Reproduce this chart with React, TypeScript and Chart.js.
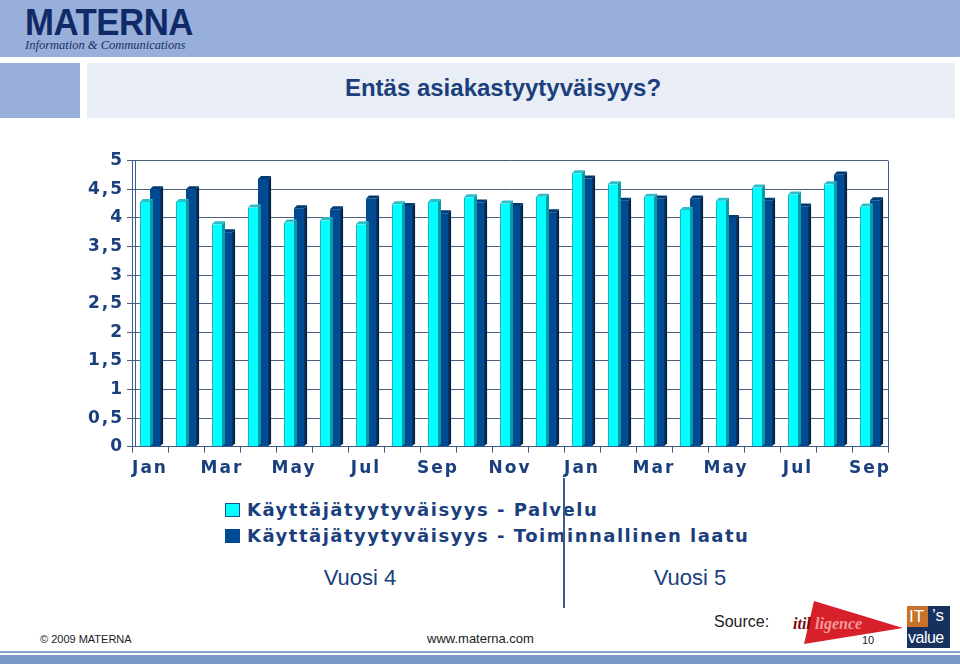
import React, { useEffect, useRef } from "react";
import { Chart, registerables } from "chart.js";

Chart.register(...registerables);

const months = [
  "Jan", "Feb", "Mar", "Apr", "May", "Jun", "Jul", "Aug", "Sep", "Oct", "Nov", "Dec",
  "Jan", "Feb", "Mar", "Apr", "May", "Jun", "Jul", "Aug", "Sep",
];
const palvelu = [
  4.28, 4.28, 3.89, 4.18, 3.92, 3.96, 3.89, 4.24, 4.28, 4.36, 4.25, 4.37,
  4.78, 4.59, 4.37, 4.14, 4.3, 4.53, 4.41, 4.59, 4.2,
];
const toiminnallinen = [
  4.5, 4.5, 3.75, 4.68, 4.17, 4.15, 4.34, 4.21, 4.08, 4.27, 4.21, 4.1,
  4.69, 4.3, 4.34, 4.34, 4.0, 4.3, 4.2, 4.76, 4.31,
];
const seriesNames = [
  "Käyttäjätyytyväisyys - Palvelu",
  "Käyttäjätyytyväisyys - Toiminnallinen laatu",
];
const yearLabels = ["Vuosi 4", "Vuosi 5"];

const NAVY = "#1b3f7c";
const CYAN = "#00ffff";
const DARK = "#004a93";

const depthPlugin = {
  id: "depth3d",
  afterDatasetDraw(chart: any, args: any) {
    const ctx = chart.ctx;
    const meta = args.meta;
    const d = 3;
    const top = args.index === 0 ? "#2bbfca" : "#003a75";
    const side = args.index === 0 ? "#0a9aa6" : "#00264f";
    ctx.save();
    meta.data.forEach((bar: any) => {
      const { x, y, base, width } = bar.getProps(["x", "y", "base", "width"], true);
      const l = x - width / 2;
      const r = x + width / 2;
      ctx.fillStyle = top;
      ctx.beginPath();
      ctx.moveTo(l, y);
      ctx.lineTo(l + d, y - d);
      ctx.lineTo(r + d, y - d);
      ctx.lineTo(r, y);
      ctx.closePath();
      ctx.fill();
      ctx.fillStyle = side;
      ctx.beginPath();
      ctx.moveTo(r, y);
      ctx.lineTo(r + d, y - d);
      ctx.lineTo(r + d, base - d);
      ctx.lineTo(r, base);
      ctx.closePath();
      ctx.fill();
    });
    ctx.restore();
  },
};

const framePlugin = {
  id: "frame",
  beforeDraw(chart: any) {
    chart.ctx.letterSpacing = "2px";
  },
  afterDraw(chart: any) {
    const ctx = chart.ctx;
    ctx.letterSpacing = "0px";
    const a = chart.chartArea;
    ctx.save();
    ctx.strokeStyle = "#3c5a8a";
    ctx.lineWidth = 1;
    ctx.beginPath();
    ctx.moveTo(Math.round(a.right) + 0.5, a.top);
    ctx.lineTo(Math.round(a.right) + 0.5, a.bottom);
    ctx.moveTo(a.left + 3.5, a.top);
    ctx.lineTo(a.left + 3.5, a.bottom);
    ctx.stroke();
    ctx.restore();
  },
};

function ChartBox() {
  const ref = useRef<HTMLCanvasElement>(null);
  useEffect(() => {
    if (!ref.current) return;
    const chart = new Chart(ref.current, {
      type: "bar",
      data: {
        labels: months,
        datasets: [
          {
            label: seriesNames[0],
            data: palvelu,
            backgroundColor: CYAN,
            borderColor: "#1aa0b0",
            borderWidth: { left: 1, top: 0, right: 0, bottom: 0 },
            categoryPercentage: 0.56,
            barPercentage: 1,
          },
          {
            label: seriesNames[1],
            data: toiminnallinen,
            backgroundColor: DARK,
            borderWidth: 0,
            categoryPercentage: 0.56,
            barPercentage: 1,
          },
        ],
      },
      options: {
        animation: false,
        responsive: false,
        maintainAspectRatio: false,
        layout: { padding: { top: 20.7, right: 72, bottom: 0, left: 0 } },
        plugins: {
          legend: { display: false },
          tooltip: { enabled: false },
          title: { display: false },
        },
        scales: {
          x: {
            afterFit(scale: any) {
              scale.height = 43.3;
            },
            grid: {
              offset: true,
              drawOnChartArea: false,
              drawTicks: true,
              tickLength: 6,
              color: "#3c5a8a",
            },
            border: { color: "#3c5a8a", width: 1 },
            ticks: {
              autoSkip: false,
              maxRotation: 0,
              padding: 6,
              color: NAVY,
              font: { family: "DejaVu Sans", weight: "bold", size: 17 },
              callback: (_v: any, i: number) => (i % 2 === 0 ? months[i] : ""),
            },
          },
          y: {
            min: 0,
            max: 5,
            afterFit(scale: any) {
              scale.width = 132;
            },
            grid: {
              color: "#4d5f7e",
              drawTicks: true,
              tickLength: 5,
            },
            border: { color: "#3c5a8a", width: 1 },
            ticks: {
              stepSize: 0.5,
              padding: 3,
              color: NAVY,
              font: { family: "DejaVu Sans", weight: "bold", size: 17 },
              callback: (v: any) => String(v).replace(".", ","),
            },
          },
        },
      },
      plugins: [depthPlugin, framePlugin],
    } as any);
    return () => chart.destroy();
  }, []);
  return (
    <canvas
      ref={ref}
      width={960}
      height={350}
      style={{ position: "absolute", left: 0, top: 140, width: 960, height: 350 }}
    />
  );
}

export default function App() {
  const abs = (s: React.CSSProperties): React.CSSProperties => ({ position: "absolute", ...s });
  return (
    <div
      style={{
        position: "absolute",
        left: 0,
        top: 0,
        width: 960,
        height: 664,
        overflow: "hidden",
        background: "#fff",
        fontFamily: "'Liberation Sans', Arial, sans-serif",
      }}
    >
      {/* header */}
      <div style={abs({ left: 0, top: 0, width: 960, height: 57, background: "#97afda" })} />
      <div
        style={abs({
          left: 25,
          top: 3,
          fontFamily: "'Liberation Sans', Arial, sans-serif",
          fontWeight: "bold",
          fontSize: 37,
          color: "#0f2a66",
          transform: "scaleX(0.94)",
          transformOrigin: "left top",
          letterSpacing: -0.5,
          lineHeight: "40px",
        })}
      >
        MATERNA
      </div>
      <div
        style={abs({
          left: 25,
          top: 38,
          fontFamily: "'Liberation Serif', 'DejaVu Serif', serif",
          fontStyle: "italic",
          fontSize: 12.5,
          color: "#1b2f5e",
          whiteSpace: "nowrap",
        })}
      >
        Information &amp; Communications
      </div>
      <div style={abs({ left: 0, top: 63, width: 80, height: 55, background: "#97afda" })} />
      <div style={abs({ left: 87, top: 63, width: 868, height: 55, background: "#e9edf6" })} />
      <div
        style={abs({
          left: 87,
          top: 74,
          width: 832,
          textAlign: "center",
          fontWeight: "bold",
          fontSize: 24,
          color: NAVY,
          whiteSpace: "nowrap",
        })}
      >
        Entäs asiakastyytyväisyys?
      </div>

      <ChartBox />

      {/* legend */}
      {[0, 1].map((i) => (
        <div key={i} style={abs({ left: 225, top: 500 + i * 26, height: 20, whiteSpace: "nowrap" })}>
          <span
            style={{
              position: "absolute",
              left: 0,
              top: 3,
              width: 13,
              height: 12,
              background: i === 0 ? CYAN : DARK,
              border: `1px solid ${i === 0 ? "#17508f" : DARK}`,
            }}
          />
          <span
            style={{
              position: "absolute",
              left: 22,
              top: -1,
              fontFamily: "'DejaVu Sans', sans-serif",
              fontWeight: "bold",
              fontSize: 18,
              letterSpacing: 1.5,
              color: NAVY,
              lineHeight: "21px",
            }}
          >
            {seriesNames[i]}
          </span>
        </div>
      ))}
      <div style={abs({ left: 563, top: 478, width: 1.5, height: 130, background: "#3a5a8e" })} />
      <div style={abs({ left: 300, top: 565, width: 120, textAlign: "center", fontSize: 22, color: NAVY })}>
        {yearLabels[0]}
      </div>
      <div style={abs({ left: 630, top: 565, width: 120, textAlign: "center", fontSize: 22, color: NAVY })}>
        {yearLabels[1]}
      </div>

      {/* footer */}
      <div style={abs({ left: 40, top: 633, fontSize: 11, color: "#222" })}>© 2009 MATERNA</div>
      <div style={abs({ left: 427, top: 631, fontSize: 13, color: "#222" })}>www.materna.com</div>
      <div style={abs({ left: 714, top: 613, fontSize: 16, color: "#222" })}>Source:</div>
      <svg style={abs({ left: 790, top: 598, width: 120, height: 50 })} width={120} height={50}>
        <polygon points="24,3 113,30 14,46" fill="#d8202a" />
        <text x="3" y="31" fontFamily="'Liberation Serif', serif" fontStyle="italic" fontWeight="bold" fontSize="16" fill="#7a0a10">
          itil
        </text>
        <text x="25" y="31" fontFamily="'Liberation Serif', serif" fontStyle="italic" fontWeight="bold" fontSize="16" fill="#f39a9a">
          ligence
        </text>
      </svg>
      <div style={abs({ left: 862, top: 634, fontSize: 11, color: "#222" })}>10</div>
      <div style={abs({ left: 907, top: 606, width: 43, height: 42, background: "#17305e" })} />
      <div style={abs({ left: 907, top: 606, width: 21, height: 21, background: "#c8712b" })} />
      <div style={abs({ left: 909, top: 606, fontSize: 17, color: "#fff", lineHeight: "21px" })}>IT</div>
      <div style={abs({ left: 932, top: 605, fontSize: 17, color: "#fff", lineHeight: "21px" })}>’s</div>
      <div style={abs({ left: 908, top: 627, fontSize: 16, color: "#fff", lineHeight: "21px", letterSpacing: -0.5 })}>
        value
      </div>
      <div style={abs({ left: 0, top: 651, width: 960, height: 2, background: "#8aa3cc" })} />
      <div style={abs({ left: 0, top: 655, width: 960, height: 9, background: "#7b98c6" })} />
    </div>
  );
}
